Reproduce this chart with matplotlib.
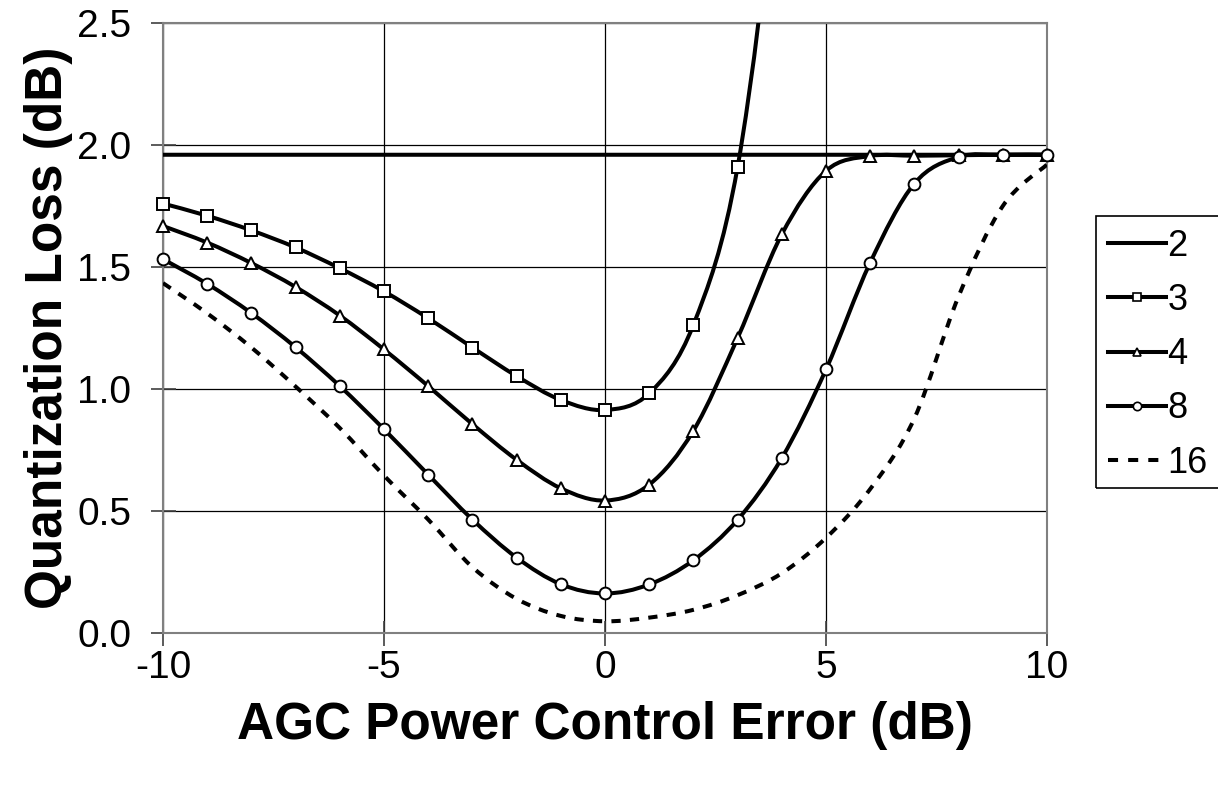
import numpy as np
import matplotlib
matplotlib.use('Agg')
import matplotlib.pyplot as plt
from matplotlib.path import Path
from matplotlib.patches import PathPatch, Rectangle
from matplotlib.lines import Line2D

plt.rcParams['font.family'] = ['Liberation Sans', 'DejaVu Sans']
plt.rcParams['axes.unicode_minus'] = False

# data
x = list(range(-10, 11))
levels_2 = [1.96] * 21
x_3 = list(range(-10, 6))
levels_3 = [1.76, 1.71, 1.65, 1.58, 1.495, 1.40, 1.29, 1.17, 1.053, 0.955,
            0.914, 0.982, 1.263, 1.91, 3.3, 5.0]
levels_4 = [1.668, 1.60, 1.516, 1.418, 1.301, 1.162, 1.012, 0.856, 0.710, 0.593,
            0.543, 0.608, 0.829, 1.209, 1.634, 1.894, 1.955, 1.956, 1.958, 1.96, 1.96]
levels_8 = [1.532, 1.431, 1.311, 1.171, 1.012, 0.835, 0.649, 0.465, 0.309, 0.200,
            0.162, 0.199, 0.298, 0.464, 0.717, 1.080, 1.518, 1.842, 1.951, 1.96, 1.96]
levels_16 = [1.434, 1.31, 1.17, 1.01, 0.84, 0.645, 0.465, 0.27, 0.14, 0.07,
             0.048, 0.063, 0.095, 0.155, 0.245, 0.39, 0.59, 0.88, 1.38, 1.75, 1.92]

LW = 2.9


def smooth_path(xs, ys):
    # excel style smoothed line (catmull-rom bezier)
    pts = np.column_stack([np.asarray(xs, float), np.asarray(ys, float)])
    n = len(pts)
    verts = [pts[0]]
    codes = [Path.MOVETO]
    for i in range(n - 1):
        p0 = pts[max(i - 1, 0)]
        p1 = pts[i]
        p2 = pts[i + 1]
        p3 = pts[min(i + 2, n - 1)]
        verts += [p1 + (p2 - p0) / 6, p2 - (p3 - p1) / 6, p2]
        codes += [Path.CURVE4] * 3
    return Path(verts, codes)


fig = plt.figure(figsize=(12.18, 7.93), dpi=100)
ax = fig.add_axes([163 / 1218, 1 - 633 / 793, 884 / 1218, 610 / 793])

ax.add_patch(PathPatch(smooth_path(x, levels_2), fill=False, lw=LW, edgecolor='black', zorder=3))
ax.add_patch(PathPatch(smooth_path(x_3, levels_3), fill=False, lw=LW, edgecolor='black', zorder=3))
ax.add_patch(PathPatch(smooth_path(x, levels_4), fill=False, lw=LW, edgecolor='black', zorder=3))
ax.add_patch(PathPatch(smooth_path(x, levels_8), fill=False, lw=LW, edgecolor='black', zorder=3))
ax.add_patch(PathPatch(smooth_path(x, levels_16), fill=False, lw=LW, edgecolor='black',
                       linestyle=(0, (2.3, 2.3)), zorder=3))

marker_kw = dict(ls='none', mfc='white', mec='black', mew=1.4, clip_on=False, zorder=4)
x3 = np.array(x_3)
y3 = np.array(levels_3)
vis = y3 <= 2.5
ax.plot(x3[vis], y3[vis], marker='s', ms=8.5, **marker_kw)
ax.plot(x, levels_4, marker='^', ms=8.5, **marker_kw)
ax.plot(x, levels_8, marker='o', ms=8.5, **marker_kw)

ax.set_xlim(-10, 10)
ax.set_ylim(0, 2.5)
ax.set_xticks([-10, -5, 0, 5, 10])
ax.set_yticks(np.arange(0, 2.51, 0.5))
ax.set_yticklabels(['%.1f' % v for v in np.arange(0, 2.51, 0.5)])
ax.grid(True, color='black', lw=0.9)
ax.set_axisbelow(True)
for s in ax.spines.values():
    s.set_color('#808080')
    s.set_linewidth(1.5)
ax.tick_params(axis='both', direction='inout', length=18, width=1.2, color='#404040',
               labelsize=28)
ax.tick_params(axis='x', pad=3)
ax.tick_params(axis='y', pad=14)

ax.set_xlabel('AGC Power Control Error (dB)', fontsize=37, fontweight='bold', labelpad=11)
ax.set_ylabel('Quantization Loss (dB)', fontsize=37, fontweight='bold', labelpad=3)

handles = [
    Line2D([], [], color='black', lw=LW),
    Line2D([], [], color='black', lw=LW, marker='s', ms=6, mfc='white', mec='black', mew=1.2),
    Line2D([], [], color='black', lw=LW, marker='^', ms=6, mfc='white', mec='black', mew=1.2),
    Line2D([], [], color='black', lw=LW, marker='o', ms=6, mfc='white', mec='black', mew=1.2),
    Line2D([], [], color='black', lw=LW, linestyle=(0, (2.5, 2.5))),
]
fig.legend(handles, ['2', '3', '4', '8', '16'], loc='upper left',
           bbox_to_anchor=(1108 / 1218, 1 - 229 / 793), fontsize=26,
           handlelength=1.6, handletextpad=0.05, labelspacing=0.53,
           borderpad=0.0, borderaxespad=0, frameon=False)
# legend box runs off the right edge of the picture
fig.patches.append(Rectangle((1096 / 1218, 1 - 488 / 793), 140 / 1218, 272 / 793,
                             transform=fig.transFigure, fill=False, edgecolor='black',
                             lw=1.2, clip_on=False))

fig.savefig('out.png', dpi=100)
